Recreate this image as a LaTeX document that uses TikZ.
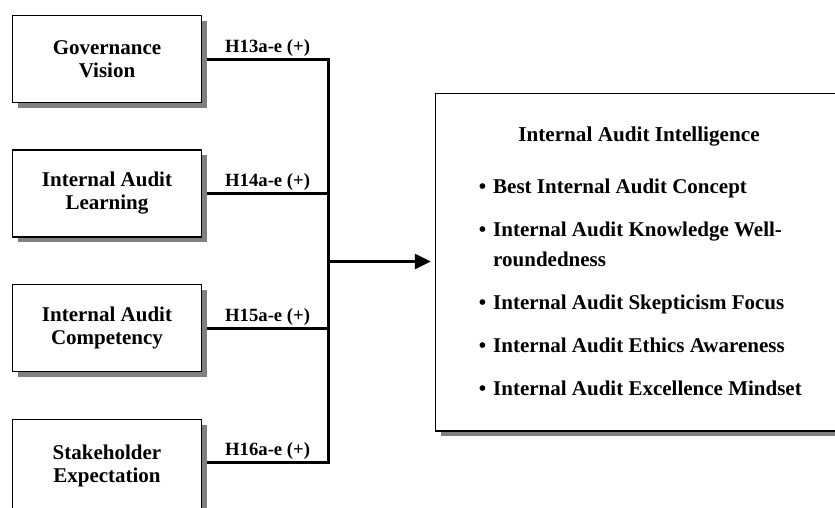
\documentclass[tikz,border=0pt]{standalone}
\usepackage{fontspec}
\setmainfont{Liberation Serif}
\usetikzlibrary{shadows,arrows.meta,calc}

\begin{document}
\begin{tikzpicture}[x=1pt,y=-1pt,
  boxshadow/.style={drop shadow={shadow xshift=5pt,shadow yshift=-5pt,fill=black!50,opacity=1}},
  factor/.style={draw=black,line width=1.5pt,fill=white,minimum width=189pt,minimum height=87pt,
    align=center,inner sep=0pt,font=\fontsize{21}{23}\selectfont\bfseries,boxshadow},
  outcome/.style={draw=black,line width=1.5pt,fill=white,minimum width=420pt,minimum height=337.5pt,
    inner sep=0pt,anchor=north west,boxshadow},
  conn/.style={line width=3pt},
  lbl/.style={font=\fontsize{18.7}{20}\selectfont\bfseries,inner sep=0pt,anchor=base},
  item/.style={font=\fontsize{21}{23}\selectfont\bfseries,inner sep=0pt,anchor=base west},
  dot/.style={font=\fontsize{21}{23}\selectfont\bfseries,inner sep=0pt,anchor=base},
]
\useasboundingbox (0,0) rectangle (835,507);
\clip (0,0) rectangle (835,507);

% antecedent constructs
\node[factor] (gv) at (107,59)    {Governance\\Vision};
\node[factor] (ial) at (107,193.5) {Internal Audit\\Learning};
\node[factor] (iac) at (107,328)  {Internal Audit\\Competency};
\node[factor,minimum height=92pt] (se) at (107,465.5) {Stakeholder\\Expectation};
\coordinate (seout) at ([yshift=3.5pt]se.east);

% outcome construct
\node[outcome] (iai) at (434.75,92.75) {};
\node[font=\fontsize{21.2}{23}\selectfont\bfseries,inner sep=0pt,anchor=base] (ttl) at (639,141) {Internal Audit Intelligence};

\node[dot] (d1) at (482.5,193) {\textbullet};
\node[item] (i1) at (493,193) {Best Internal Audit Concept};
\node[dot] (d2) at (482.5,236) {\textbullet};
\node[item] (i2a) at (493,236) {Internal Audit Knowledge Well-};
\node[item] (i2b) at (493,266) {roundedness};
\node[dot] (d3) at (482.5,309) {\textbullet};
\node[item] (i3) at (493,309) {Internal Audit Skepticism Focus};
\node[dot] (d4) at (482.5,352) {\textbullet};
\node[item] (i4) at (493,352) {Internal Audit Ethics Awareness};
\node[dot] (d5) at (482.5,395) {\textbullet};
\node[item] (i5) at (493,395) {Internal Audit Excellence Mindset};

% collector line
\coordinate (spine) at (328,261.5);
\draw[conn,line join=miter] ([xshift=5pt]gv.east) -- (gv.east -| spine) -- (seout -| spine) -- ([xshift=5pt]seout);
\draw[conn] ([xshift=5pt]ial.east) -- (ial.east -| spine);
\draw[conn] ([xshift=5pt]iac.east) -- (iac.east -| spine);
\draw[conn,-{Triangle[length=16pt,width=15pt]},shorten >=4pt] (spine) -- (iai.west |- spine);

% hypothesis labels
\path ([xshift=5pt]gv.east) -- (gv.east -| spine) node[lbl,midway,yshift=6.7pt] (h13) {H13a-e (+)};
\path ([xshift=5pt]ial.east) -- (ial.east -| spine) node[lbl,midway,yshift=6.7pt] (h14) {H14a-e (+)};
\path ([xshift=5pt]iac.east) -- (iac.east -| spine) node[lbl,midway,yshift=6.7pt] (h15) {H15a-e (+)};
\path ([xshift=5pt]seout) -- (seout -| spine) node[lbl,midway,yshift=6.7pt] (h16) {H16a-e (+)};
\end{tikzpicture}
\end{document}
